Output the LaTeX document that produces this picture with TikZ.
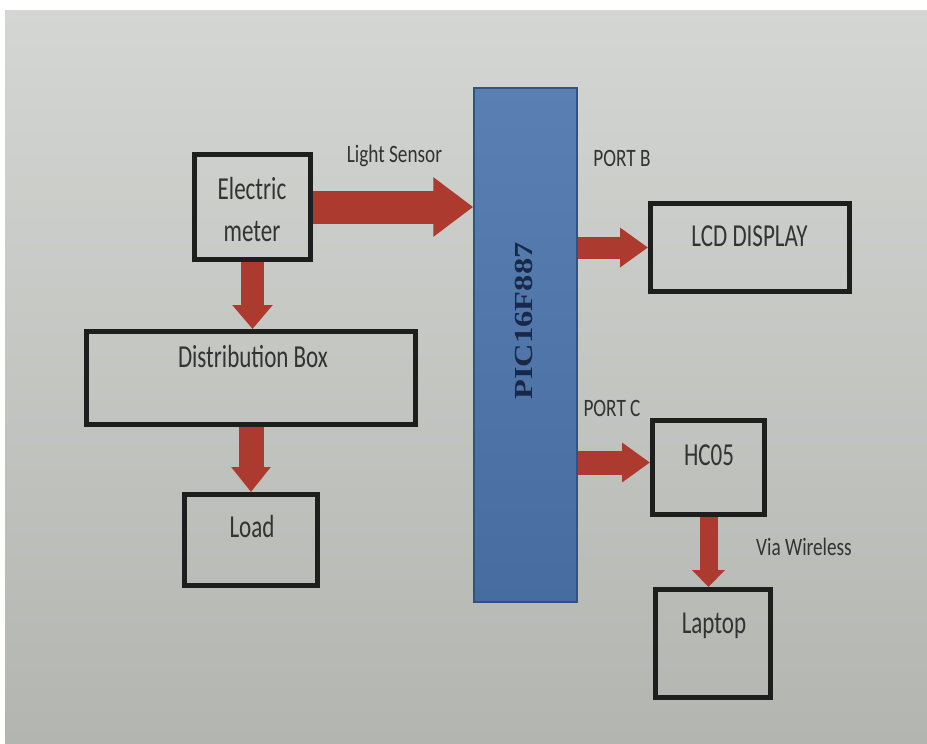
\documentclass[tikz,border=0pt]{standalone}
\usepackage{fontspec}
\setmainfont{Carlito}
\newfontfamily\boxfont{Carlito}[FakeStretch=0.72]
\newfontfamily\labfont{Carlito}[FakeStretch=0.77]
\newfontfamily\picfont{Liberation Serif}[FakeStretch=1.25]
\usetikzlibrary{arrows.meta}
\definecolor{papertop}{HTML}{D3D6D2}
\definecolor{papermid}{HTML}{E0E1DE}
\definecolor{paperbot}{HTML}{B3B5B1}
\definecolor{boxline}{HTML}{1E1E1E}
\definecolor{arrowred}{HTML}{AC3A2F}
\definecolor{pictop}{HTML}{5A80B3}
\definecolor{picbot}{HTML}{476C9F}
\definecolor{picline}{HTML}{2F5383}
\definecolor{pictext}{HTML}{1A2848}
\definecolor{txt}{HTML}{333333}
\tikzset{
  blockbox/.style={draw=boxline, line width=5pt, inner sep=0pt},
  boxtext/.style={font=\boxfont\fontsize{32}{42}\selectfont, text=txt, inner sep=0pt, align=center},
  labtext/.style={font=\labfont\fontsize{25}{30}\selectfont, text=txt, inner sep=0pt},
  fat/.style n args={3}{draw=arrowred, line width=#1pt, line cap=butt,
    -{Triangle[length=#2pt,width=#3pt]}}
}
\begin{document}
\begin{tikzpicture}[x=1pt,y=-1pt]
\useasboundingbox (0,0) rectangle (927,744);
\fill[white] (0,0) rectangle (927,744);
\shade[top color=papertop, middle color=papermid, bottom color=paperbot] (5,10) rectangle (927,744);

% PIC block
\node[draw=picline, line width=1.5pt, top color=pictop, bottom color=picbot,
      minimum width=103pt, minimum height=514pt, inner sep=0pt] (pic) at (525.5,345) {};
\node[rotate=90, font=\picfont\bfseries\fontsize{26}{30}\selectfont, text=pictext, inner sep=0pt]
  (pict) at (524,321) {PIC16F887};

% boxes
\node[blockbox, minimum width=116pt, minimum height=105pt] (em) at (252.5,207) {};
\node[boxtext] (emt) at (252,210) {Electric\\meter};
\node[blockbox, minimum width=329pt, minimum height=93pt] (dist) at (251,378) {};
\node[boxtext] (distt) at (253,357) {Distribution Box};
\node[blockbox, minimum width=133pt, minimum height=91pt] (load) at (251,540) {};
\node[boxtext] (loadt) at (252,527) {Load};
\node[blockbox, minimum width=199pt, minimum height=88pt] (lcd) at (750,247.5) {};
\node[boxtext] (lcdt) at (749.5,236) {LCD DISPLAY};
\node[blockbox, minimum width=112pt, minimum height=94pt] (hc) at (708.5,467.5) {};
\node[boxtext] (hct) at (709,455) {HC05};
\node[blockbox, minimum width=115pt, minimum height=108pt] (lap) at (713,643.5) {};
\node[boxtext] (lapt) at (714,626) {Laptop};

% labels
\node[labtext] (ls) at (394.5,156) {Light Sensor};
\node[labtext] (pb) at (622,158) {PORT B};
\node[labtext] (pc) at (612,408) {PORT C};
\node[labtext] (vw) at (804,547) {Via Wireless};

% arrows
\draw[fat={33}{40}{57}] (em.east) -- (em.east -| pic.west);
\draw[fat={23}{24}{39}] (em.south) -- (em.south |- dist.north);
\draw[fat={25}{25}{38}] (dist.south -| load.north) -- (load.north);
\draw[fat={22}{28}{38}] (lcd.west -| pic.east) -- (lcd.west);
\draw[fat={24}{28}{38}] ([yshift=5pt]hc.west -| pic.east) -- ([yshift=5pt]hc.west);
\draw[fat={18}{17}{32}] (hc.south) -- (hc.south |- lap.north);
\end{tikzpicture}
\end{document}
